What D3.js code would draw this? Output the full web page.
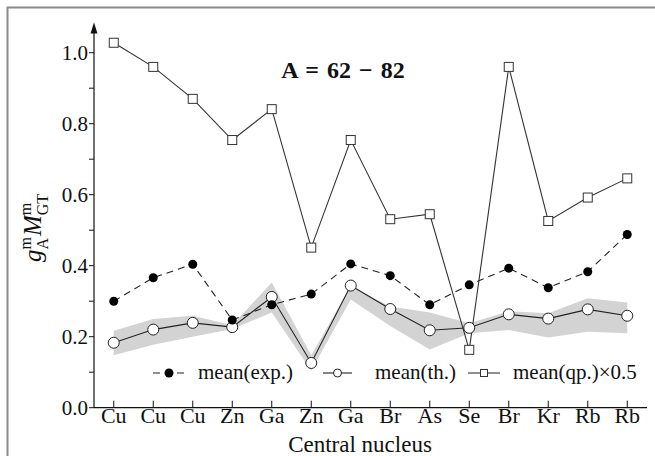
<!DOCTYPE html>
<html>
<head>
<meta charset="utf-8">
<script src="https://cdn.jsdelivr.net/npm/d3@7"></script>
<style>
  body { margin: 0; background: #fff; }
</style>
</head>
<body>
<div id="chart"></div>
<script>
// datos
const nucleos = ["Cu", "Cu", "Cu", "Zn", "Ga", "Zn", "Ga", "Br", "As", "Se", "Br", "Kr", "Rb", "Rb"]
const mediaExp = [0.300, 0.366, 0.404, 0.247, 0.290, 0.320, 0.405, 0.372, 0.290, 0.346, 0.393, 0.338, 0.383, 0.488]
const mediaTh = [0.183, 0.220, 0.239, 0.227, 0.312, 0.126, 0.344, 0.278, 0.218, 0.225, 0.263, 0.251, 0.277, 0.259]
const mediaQp = [1.028, 0.960, 0.870, 0.754, 0.841, 0.451, 0.754, 0.531, 0.545, 0.163, 0.960, 0.526, 0.592, 0.646]
const bandaSup = [0.217, 0.250, 0.259, 0.232, 0.353, 0.148, 0.342, 0.285, 0.268, 0.238, 0.272, 0.266, 0.308, 0.296]
const bandaInf = [0.148, 0.177, 0.200, 0.222, 0.268, 0.105, 0.305, 0.230, 0.164, 0.210, 0.219, 0.198, 0.214, 0.210]
const ticksY = [0, 0.2, 0.4, 0.6, 0.8, 1.0]
const ticksYmenor = [0.1, 0.3, 0.5, 0.7, 0.9]
const leyenda = ["mean(exp.)", "mean(th.)", "mean(qp.)\u00d70.5"]

const ancho = 655, alto = 456
const fuente = "\"Liberation Serif\", \"DejaVu Serif\", serif"

const svg = d3.select("#chart")
  .append("svg")
  .attr("width", ancho)
  .attr("height", alto)
  .style("font-family", fuente)

// marco gris
svg.append("path")
  .attr("d", "M7.5,456 L7.5,7.5 L655,7.5")
  .attr("fill", "none")
  .attr("stroke", "#8a8a8a")
  .attr("stroke-width", 2)

const x = d3.scaleLinear().domain([-0.5, 13.5]).range([94, 647])
const y = d3.scaleLinear().domain([0, 1]).range([407.7, 52.7])

const idx = d3.range(nucleos.length)

// banda gris
const area = d3.area()
  .x(i => x(i))
  .y0(i => y(bandaInf[i]))
  .y1(i => y(bandaSup[i]))
svg.append("path")
  .datum(idx)
  .attr("d", area)
  .attr("fill", "#d3d3d3")

// ejes
svg.append("line")
  .attr("x1", x(-0.5)).attr("x2", x(13.5))
  .attr("y1", y(0)).attr("y2", y(0))
  .attr("stroke", "#111").attr("stroke-width", 1.2)
svg.append("line")
  .attr("x1", x(-0.5)).attr("x2", x(-0.5))
  .attr("y1", y(0)).attr("y2", y(1.07))
  .attr("stroke", "#111").attr("stroke-width", 1.2)
svg.append("path")
  .attr("d", `M${x(-0.5)},${y(1.085)} L${x(-0.5) - 3.5},${y(1.085) + 11} L${x(-0.5) + 3.5},${y(1.085) + 11} Z`)
  .attr("fill", "#111")

// ticks y
svg.selectAll(".ty")
  .data(ticksY.concat(ticksYmenor))
  .enter().append("line")
  .attr("x1", x(-0.5) - 5).attr("x2", x(-0.5))
  .attr("y1", d => y(d)).attr("y2", d => y(d))
  .attr("stroke", "#111")

svg.selectAll(".ly")
  .data(ticksY)
  .enter().append("text")
  .attr("x", 88)
  .attr("y", d => y(d))
  .attr("dy", "0.35em")
  .attr("text-anchor", "end")
  .attr("font-size", 21)
  .attr("fill", "#111")
  .text(d => d.toFixed(1))

// ticks x
svg.selectAll(".tx")
  .data(idx)
  .enter().append("line")
  .attr("x1", i => x(i)).attr("x2", i => x(i))
  .attr("y1", y(0)).attr("y2", y(0) - 7)
  .attr("stroke", "#111")

svg.selectAll(".lx")
  .data(idx)
  .enter().append("text")
  .attr("x", i => x(i))
  .attr("y", 423)
  .attr("text-anchor", "middle")
  .attr("font-size", 22)
  .attr("fill", "#111")
  .text(i => nucleos[i])

svg.append("text")
  .attr("x", 360)
  .attr("y", 452)
  .attr("text-anchor", "middle")
  .attr("font-size", 23)
  .attr("fill", "#111")
  .text("Central nucleus")

// etiqueta eje y
const ty = svg.append("text")
  .attr("transform", "translate(41,228) rotate(-90)")
  .attr("text-anchor", "middle")
  .attr("font-size", 25)
  .attr("fill", "#111")
ty.append("tspan").attr("font-style", "italic").text("g")
const sup1 = ty.append("tspan").attr("font-size", 16).attr("dy", -10).text("m")
const w1 = sup1.node().getComputedTextLength()
const sub1 = ty.append("tspan").attr("font-size", 16).attr("dy", 17).attr("dx", -w1).text("A")
const w1b = sub1.node().getComputedTextLength()
ty.append("tspan").attr("font-style", "italic").attr("dy", -7).attr("dx", Math.max(0, w1 - w1b) + 1).text("M")
const sup2 = ty.append("tspan").attr("font-size", 16).attr("dy", -10).text("m")
const w2 = sup2.node().getComputedTextLength()
ty.append("tspan").attr("font-size", 16).attr("dy", 17).attr("dx", -w2).text("GT")

// titulo
svg.append("text")
  .attr("x", 343)
  .attr("y", 78)
  .attr("text-anchor", "middle")
  .attr("font-size", 24)
  .attr("font-weight", "bold")
  .attr("fill", "#111")
  .attr("word-spacing", 2)
  .text("A = 62 \u2212 82")

// lineas
const linea = serie => d3.line().x(i => x(i)).y(i => y(serie[i]))

svg.append("path").datum(idx).attr("d", linea(mediaTh))
  .attr("fill", "none").attr("stroke", "#222").attr("stroke-width", 1.1)
svg.append("path").datum(idx).attr("d", linea(mediaExp))
  .attr("fill", "none").attr("stroke", "#222").attr("stroke-width", 1.1)
  .attr("stroke-dasharray", "7,5")
svg.append("path").datum(idx).attr("d", linea(mediaQp))
  .attr("fill", "none").attr("stroke", "#333").attr("stroke-width", 1.1)

// marcadores
svg.selectAll(".mth").data(idx).enter().append("circle")
  .attr("cx", i => x(i)).attr("cy", i => y(mediaTh[i])).attr("r", 5.5)
  .attr("fill", "#fff").attr("stroke", "#222").attr("stroke-width", 1)
svg.selectAll(".mexp").data(idx).enter().append("circle")
  .attr("cx", i => x(i)).attr("cy", i => y(mediaExp[i])).attr("r", 4.5)
  .attr("fill", "#000")
svg.selectAll(".mqp").data(idx).enter().append("rect")
  .attr("x", i => x(i) - 4.5).attr("y", i => y(mediaQp[i]) - 4.5)
  .attr("width", 9).attr("height", 9)
  .attr("fill", "#fff").attr("stroke", "#333").attr("stroke-width", 1)

// leyenda
const ly = 373
const gL = svg.append("g")
gL.append("line").attr("x1", 152).attr("x2", 186).attr("y1", ly).attr("y2", ly)
  .attr("stroke", "#222").attr("stroke-width", 1.1).attr("stroke-dasharray", "7,5")
  .attr("stroke-dashoffset", -1)
gL.append("circle").attr("cx", 169).attr("cy", ly).attr("r", 4.5).attr("fill", "#000")
gL.append("line").attr("x1", 323).attr("x2", 352).attr("y1", ly).attr("y2", ly)
  .attr("stroke", "#222").attr("stroke-width", 1.1)
gL.append("circle").attr("cx", 337.5).attr("cy", ly).attr("r", 4)
  .attr("fill", "#fff").attr("stroke", "#222")
gL.append("line").attr("x1", 468).attr("x2", 500).attr("y1", ly).attr("y2", ly)
  .attr("stroke", "#333").attr("stroke-width", 1.1)
gL.append("rect").attr("x", 480.5).attr("y", ly - 3.5).attr("width", 7).attr("height", 7)
  .attr("fill", "#fff").attr("stroke", "#333")
gL.selectAll("text")
  .data(leyenda)
  .enter().append("text")
  .attr("x", (d, i) => [198, 375, 513][i])
  .attr("y", ly)
  .attr("dy", "0.3em")
  .attr("font-size", 21)
  .attr("fill", "#111")
  .text(d => d)
</script>
</body>
</html>
